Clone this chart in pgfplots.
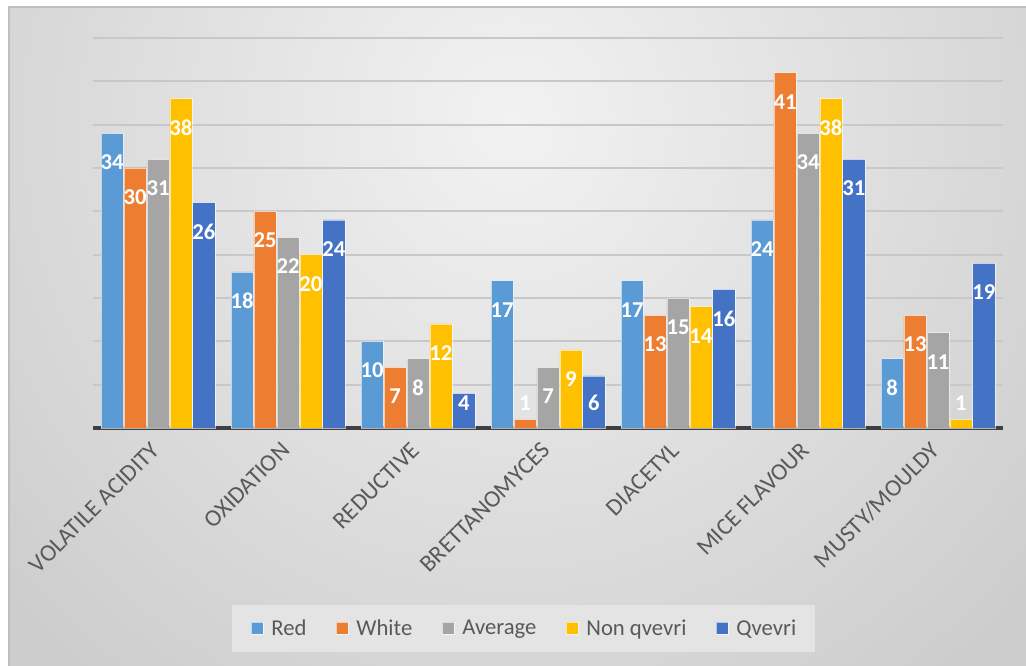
\documentclass[border=0pt]{standalone}
\usepackage{fontspec}
\setmainfont{Carlito}
\usepackage{pgfplots}
\pgfplotsset{compat=1.18}
\definecolor{cRed}{HTML}{5B9BD5}
\definecolor{cWhite}{HTML}{ED7D31}
\definecolor{cAvg}{HTML}{A5A5A5}
\definecolor{cNon}{HTML}{FFC000}
\definecolor{cQv}{HTML}{4472C4}
\definecolor{txtgray}{HTML}{595959}
\definecolor{gridc}{HTML}{C8C8C8}
\definecolor{basec}{HTML}{404040}
\definecolor{legbg}{HTML}{E4E4E4}
\definecolor{bgin}{HTML}{F2F2F2}
\definecolor{bgout}{HTML}{CDCDCD}
\begin{document}
\begin{tikzpicture}
\useasboundingbox (-69.75pt,-178.5pt) rectangle (699.75pt,321pt);
\fill[white] (-69.75pt,-178.5pt) rectangle (699.75pt,321pt);
\begin{scope}
\clip (-63pt,-178.5pt) rectangle (699.75pt,315.75pt);
\shade[inner color=bgin, outer color=bgout] (-200pt,-300pt) rectangle (830pt,760pt);
\end{scope}
\draw[color=black!25, line width=1.2pt] (-63pt,-180pt) -- (-63pt,315.75pt) -- (701pt,315.75pt);
\begin{axis}[
  scale only axis,
  width=682.5pt, height=292.5pt,
  ybar=0.6pt, bar width=16.6pt,
  xmin=-0.5, xmax=6.5, ymin=0, ymax=45,
  /pgf/number format/assume math mode=true,
  xtick={0,1,2,3,4,5,6},
  xticklabels={VOLATILE ACIDITY,OXIDATION,REDUCTIVE,BRETTANOMYCES,DIACETYL,MICE FLAVOUR,MUSTY/MOULDY},
  xticklabel style={yshift=-13pt, xshift=-1pt, rotate=45, anchor=east, font=\fontsize{18}{18}\selectfont, text=txtgray, inner sep=1pt},
  ytick={5,10,15,20,25,30,35,40,45},
  yticklabels={},
  major tick length=0pt,
  ymajorgrids,
  major grid style={color=gridc, line width=1.3pt},
  extra y ticks={0},
  extra y tick labels={},
  extra y tick style={grid=major, major grid style={color=basec, line width=2.3pt}},
  axis line style={draw=none},
  clip=false,
  every axis plot/.append style={draw=white, draw opacity=0.6, line width=0.5pt},
  visualization depends on={rawy \as \rawy},
  nodes near coords,
  nodes near coords style={font=\bfseries\fontsize{17}{17}\selectfont, text=white, anchor=center, inner sep=0pt, yshift={(max(\rawy-3.35,2.88)-\rawy)*6.5}},
  legend style={at={(0.473,-0.514)}, anchor=center, draw=none, fill=legbg, legend columns=5,
    font=\fontsize{17}{17}\selectfont, text=txtgray, inner xsep=14pt, inner ysep=11pt,
    nodes={inner sep=0pt},
    /tikz/every odd column/.append style={column sep=6pt},
    /tikz/every even column/.append style={column sep=22pt}},
  legend image code/.code={\fill[#1] (0pt,-4.5pt) rectangle (9pt,4.5pt);},
]
\addplot[fill=cRed] coordinates {(0,34) (1,18) (2,10) (3,17) (4,17) (5,24) (6,8)};
\addplot[fill=cWhite] coordinates {(0,30) (1,25) (2,7) (3,1) (4,13) (5,41) (6,13)};
\addplot[fill=cAvg] coordinates {(0,31) (1,22) (2,8) (3,7) (4,15) (5,34) (6,11)};
\addplot[fill=cNon] coordinates {(0,38) (1,20) (2,12) (3,9) (4,14) (5,38) (6,1)};
\addplot[fill=cQv] coordinates {(0,26) (1,24) (2,4) (3,6) (4,16) (5,31) (6,19)};
\legend{Red,White,Average,Non qvevri,Qvevri}
\end{axis}
\end{tikzpicture}
\end{document}
